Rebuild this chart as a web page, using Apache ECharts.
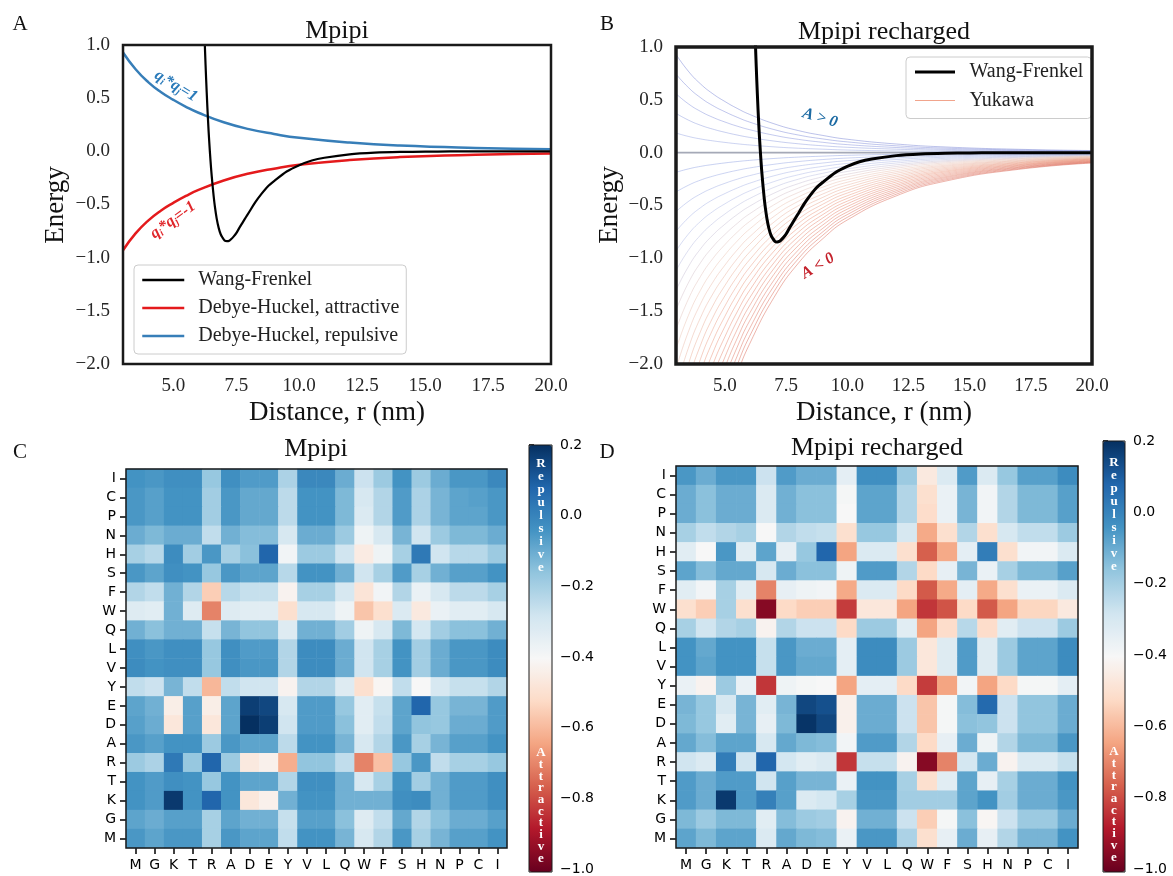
<!DOCTYPE html>
<html>
<head>
<meta charset="utf-8">
<script src="https://cdn.jsdelivr.net/npm/echarts@6/dist/echarts.min.js"></script>
<style>html,body{margin:0;padding:0;background:#fff}#c{width:1173px;height:876px}</style>
</head>
<body>
<div id="c"></div>
<script>
// ---------------- DATA ----------------
// Panel A / B : Wang-Frenkel potential
const wfX = [6.1, 6.2, 6.26, 6.3, 6.35, 6.4, 6.45, 6.5, 6.55, 6.6, 6.65, 6.72, 6.8, 6.88, 6.95, 7.04, 7.13, 7.22, 7.3, 7.4, 7.5, 7.62, 7.75, 7.88, 8.0, 8.25, 8.5, 8.75, 9.0, 9.5, 10, 10.5, 11, 12, 13, 14, 15, 16, 17, 18, 20];
const wfY = [2.27, 1.36, 0.935, 0.69, 0.42, 0.19, 0, -0.165, -0.30, -0.42, -0.52, -0.63, -0.72, -0.78, -0.81, -0.84, -0.845, -0.84, -0.825, -0.80, -0.77, -0.72, -0.67, -0.62, -0.575, -0.48, -0.40, -0.33, -0.28, -0.19, -0.13, -0.086, -0.06, -0.028, -0.013, -0.006, -0.003, -0.001, 0, 0, 0];
// Panel A : Debye-Huckel
const dhX = [3, 3.5, 4, 4.5, 5, 5.5, 6, 7, 8, 9, 10, 12, 14, 17, 20];
const dhRepulsive = [0.93, 0.772, 0.651, 0.558, 0.484, 0.419, 0.363, 0.274, 0.209, 0.163, 0.127, 0.082, 0.054, 0.032, 0.020];
const dhAttractive = [-0.93, -0.772, -0.651, -0.558, -0.484, -0.419, -0.363, -0.274, -0.209, -0.163, -0.127, -0.082, -0.054, -0.032, -0.020];
// Panel B : Yukawa family
const yukX = [3, 3.5, 4, 4.5, 5, 5.5, 6, 7, 8, 9, 10, 12, 14, 17, 20];
const yukY = [
 [0.93, 0.772, 0.651, 0.558, 0.484, 0.419, 0.363, 0.274, 0.209, 0.163, 0.127, 0.082, 0.054, 0.032, 0.020],
 [0.744, 0.618, 0.521, 0.446, 0.387, 0.335, 0.290, 0.219, 0.167, 0.130, 0.102, 0.065, 0.043, 0.025, 0.016],
 [0.558, 0.463, 0.391, 0.335, 0.290, 0.251, 0.218, 0.165, 0.126, 0.098, 0.076, 0.049, 0.032, 0.019, 0.012],
 [0.372, 0.309, 0.260, 0.223, 0.193, 0.167, 0.145, 0.110, 0.084, 0.065, 0.051, 0.033, 0.022, 0.013, 0.008],
 [0.186, 0.154, 0.130, 0.112, 0.097, 0.084, 0.073, 0.055, 0.042, 0.033, 0.025, 0.016, 0.011, 0.006, 0.004],
 [0, 0, 0, 0, 0, 0, 0, 0, 0, 0, 0, 0, 0, 0, 0],
 [-0.186, -0.154, -0.130, -0.112, -0.097, -0.084, -0.073, -0.055, -0.042, -0.033, -0.025, -0.016, -0.011, -0.006, -0.004],
 [-0.372, -0.309, -0.260, -0.223, -0.193, -0.167, -0.145, -0.110, -0.084, -0.065, -0.051, -0.033, -0.022, -0.013, -0.008],
 [-0.558, -0.463, -0.391, -0.335, -0.290, -0.251, -0.218, -0.165, -0.126, -0.098, -0.076, -0.049, -0.032, -0.019, -0.012],
 [-0.744, -0.618, -0.521, -0.446, -0.387, -0.335, -0.290, -0.219, -0.167, -0.130, -0.102, -0.065, -0.043, -0.025, -0.016],
 [-0.93, -0.772, -0.651, -0.558, -0.484, -0.419, -0.363, -0.274, -0.209, -0.163, -0.127, -0.082, -0.054, -0.032, -0.020],
 [-1.116, -0.926, -0.781, -0.670, -0.580, -0.502, -0.435, -0.329, -0.251, -0.195, -0.153, -0.098, -0.065, -0.038, -0.023],
 [-1.302, -1.081, -0.911, -0.781, -0.677, -0.586, -0.508, -0.384, -0.293, -0.228, -0.178, -0.115, -0.076, -0.044, -0.027],
 [-1.488, -1.235, -1.042, -0.893, -0.774, -0.670, -0.580, -0.439, -0.335, -0.260, -0.204, -0.131, -0.086, -0.051, -0.031],
 [-1.674, -1.389, -1.172, -1.004, -0.870, -0.753, -0.653, -0.494, -0.377, -0.293, -0.229, -0.147, -0.097, -0.057, -0.035],
 [-1.86, -1.544, -1.302, -1.116, -0.967, -0.837, -0.725, -0.549, -0.419, -0.326, -0.255, -0.164, -0.108, -0.063, -0.039],
 [-2.046, -1.698, -1.432, -1.228, -1.064, -0.921, -0.798, -0.604, -0.460, -0.358, -0.280, -0.180, -0.119, -0.070, -0.043],
 [-2.232, -1.853, -1.562, -1.339, -1.161, -1.004, -0.870, -0.658, -0.502, -0.391, -0.306, -0.196, -0.129, -0.076, -0.047],
 [-2.418, -2.007, -1.693, -1.451, -1.257, -1.088, -0.943, -0.713, -0.544, -0.423, -0.331, -0.213, -0.140, -0.082, -0.051],
 [-2.604, -2.161, -1.823, -1.562, -1.354, -1.172, -1.016, -0.768, -0.586, -0.456, -0.357, -0.229, -0.151, -0.089, -0.055],
 [-2.79, -2.316, -1.953, -1.674, -1.451, -1.256, -1.088, -0.823, -0.628, -0.488, -0.382, -0.246, -0.162, -0.095, -0.059],
 [-2.976, -2.470, -2.083, -1.786, -1.548, -1.339, -1.161, -0.878, -0.670, -0.521, -0.408, -0.262, -0.173, -0.101, -0.062],
 [-3.162, -2.624, -2.213, -1.897, -1.644, -1.423, -1.233, -0.933, -0.711, -0.553, -0.433, -0.278, -0.183, -0.108, -0.066],
 [-3.348, -2.779, -2.344, -2.009, -1.741, -1.507, -1.306, -0.988, -0.753, -0.586, -0.459, -0.295, -0.194, -0.114, -0.070],
 [-3.534, -2.933, -2.474, -2.120, -1.838, -1.590, -1.378, -1.043, -0.795, -0.618, -0.484, -0.311, -0.205, -0.120, -0.074],
 [-3.72, -3.088, -2.604, -2.232, -1.934, -1.674, -1.451, -1.097, -0.837, -0.651, -0.510, -0.327, -0.216, -0.126, -0.078],
 [-3.906, -3.242, -2.734, -2.344, -2.031, -1.758, -1.523, -1.152, -0.879, -0.684, -0.535, -0.344, -0.227, -0.133, -0.082],
 [-4.092, -3.396, -2.864, -2.455, -2.128, -1.841, -1.596, -1.207, -0.921, -0.716, -0.561, -0.360, -0.237, -0.139, -0.086],
 [-4.278, -3.551, -2.995, -2.567, -2.225, -1.925, -1.668, -1.262, -0.963, -0.749, -0.586, -0.376, -0.248, -0.145, -0.090],
 [-4.464, -3.705, -3.125, -2.678, -2.321, -2.009, -1.741, -1.317, -1.004, -0.781, -0.612, -0.393, -0.259, -0.152, -0.094],
 [-4.65, -3.860, -3.255, -2.790, -2.418, -2.093, -1.814, -1.372, -1.046, -0.814, -0.637, -0.409, -0.270, -0.158, -0.098]
];
const xTicks = [5, 7.5, 10, 12.5, 15, 17.5, 20];

// Panels C / D : residue interaction matrices
const residues = ['M','G','K','T','R','A','D','E','Y','V','L','Q','W','F','S','H','N','P','C','I'];
// rows listed top to bottom: I C P N H S F W Q L V Y E D A R T K G M
const mpipiRows = [
 [-0.04,-0.05,-0.03,-0.03,-0.17,-0.03,-0.06,-0.06,-0.21,-0.01,-0.01,-0.10,-0.27,-0.18,-0.04,-0.18,-0.10,-0.05,-0.05,-0.01],
 [-0.05,-0.07,-0.04,-0.04,-0.19,-0.05,-0.09,-0.09,-0.24,-0.04,-0.04,-0.13,-0.30,-0.22,-0.06,-0.21,-0.12,-0.08,-0.07,-0.05],
 [-0.05,-0.07,-0.04,-0.04,-0.19,-0.05,-0.09,-0.09,-0.24,-0.04,-0.04,-0.13,-0.31,-0.22,-0.06,-0.21,-0.12,-0.08,-0.08,-0.05],
 [-0.10,-0.13,-0.10,-0.10,-0.25,-0.11,-0.14,-0.14,-0.30,-0.10,-0.10,-0.18,-0.37,-0.30,-0.12,-0.28,-0.18,-0.13,-0.13,-0.10],
 [-0.20,-0.23,-0.02,-0.19,-0.05,-0.20,-0.15,0.08,-0.38,-0.18,-0.18,-0.28,-0.45,-0.37,-0.20,0.03,-0.28,-0.23,-0.23,-0.18],
 [-0.05,-0.08,-0.03,-0.04,-0.17,-0.05,-0.08,-0.08,-0.23,-0.04,-0.04,-0.11,-0.28,-0.20,-0.06,-0.20,-0.11,-0.07,-0.07,-0.04],
 [-0.22,-0.25,-0.11,-0.22,-0.55,-0.23,-0.26,-0.26,-0.42,-0.20,-0.20,-0.30,-0.48,-0.38,-0.22,-0.36,-0.30,-0.24,-0.24,-0.20],
 [-0.32,-0.33,-0.11,-0.32,-0.70,-0.32,-0.33,-0.33,-0.50,-0.30,-0.30,-0.37,-0.57,-0.50,-0.31,-0.46,-0.36,-0.33,-0.33,-0.30],
 [-0.11,-0.15,-0.11,-0.11,-0.26,-0.12,-0.16,-0.16,-0.32,-0.11,-0.11,-0.19,-0.37,-0.30,-0.13,-0.29,-0.19,-0.15,-0.15,-0.11],
 [-0.03,-0.05,-0.03,-0.03,-0.17,-0.03,-0.06,-0.06,-0.22,-0.02,-0.02,-0.10,-0.28,-0.20,-0.04,-0.19,-0.10,-0.05,-0.05,-0.02],
 [-0.02,-0.04,-0.03,-0.03,-0.17,-0.03,-0.05,-0.05,-0.22,-0.02,-0.02,-0.10,-0.28,-0.20,-0.04,-0.19,-0.10,-0.05,-0.05,-0.02],
 [-0.25,-0.27,-0.12,-0.25,-0.60,-0.25,-0.28,-0.28,-0.42,-0.22,-0.22,-0.32,-0.50,-0.41,-0.25,-0.40,-0.30,-0.26,-0.26,-0.22],
 [-0.08,-0.11,-0.44,-0.07,-0.44,-0.08,0.17,0.15,-0.30,-0.06,-0.06,-0.17,-0.33,-0.26,-0.08,0.08,-0.17,-0.12,-0.12,-0.06],
 [-0.07,-0.10,-0.47,-0.07,-0.47,-0.08,0.20,0.17,-0.28,-0.06,-0.06,-0.15,-0.33,-0.25,-0.08,-0.16,-0.17,-0.10,-0.10,-0.06],
 [-0.05,-0.07,-0.04,-0.04,-0.18,-0.05,-0.08,-0.08,-0.24,-0.04,-0.04,-0.12,-0.30,-0.22,-0.05,-0.20,-0.12,-0.07,-0.07,-0.04],
 [-0.18,-0.21,0.03,-0.17,0.08,-0.18,-0.46,-0.43,-0.62,-0.16,-0.16,-0.25,-0.70,-0.58,-0.17,-0.05,-0.25,-0.20,-0.20,-0.17],
 [-0.04,-0.06,-0.03,-0.04,-0.17,-0.04,-0.08,-0.08,-0.22,-0.03,-0.03,-0.11,-0.30,-0.20,-0.04,-0.19,-0.11,-0.06,-0.06,-0.03],
 [-0.04,-0.06,0.18,-0.04,0.08,-0.04,-0.47,-0.43,-0.11,-0.04,-0.04,-0.11,-0.11,-0.11,-0.03,-0.02,-0.11,-0.06,-0.06,-0.03],
 [-0.08,-0.10,-0.07,-0.07,-0.20,-0.08,-0.11,-0.11,-0.26,-0.07,-0.07,-0.15,-0.32,-0.25,-0.09,-0.22,-0.15,-0.10,-0.10,-0.07],
 [-0.05,-0.08,-0.05,-0.05,-0.20,-0.05,-0.08,-0.08,-0.25,-0.04,-0.04,-0.12,-0.30,-0.22,-0.05,-0.20,-0.12,-0.07,-0.07,-0.04]
];
const rechargedRows = [
 [-0.05,-0.10,-0.05,-0.05,-0.27,-0.06,-0.10,-0.10,-0.34,-0.03,-0.03,-0.18,-0.46,-0.31,-0.06,-0.31,-0.17,-0.07,-0.07,-0.02],
 [-0.10,-0.15,-0.10,-0.10,-0.31,-0.11,-0.15,-0.15,-0.39,-0.08,-0.08,-0.22,-0.50,-0.36,-0.12,-0.38,-0.22,-0.13,-0.13,-0.07],
 [-0.10,-0.15,-0.10,-0.10,-0.31,-0.11,-0.15,-0.15,-0.40,-0.08,-0.08,-0.22,-0.51,-0.36,-0.12,-0.38,-0.22,-0.13,-0.13,-0.07],
 [-0.20,-0.25,-0.22,-0.20,-0.40,-0.22,-0.25,-0.26,-0.50,-0.17,-0.17,-0.30,-0.63,-0.50,-0.22,-0.50,-0.30,-0.25,-0.25,-0.18],
 [-0.33,-0.40,-0.05,-0.33,-0.08,-0.35,-0.17,0.08,-0.64,-0.31,-0.31,-0.50,-0.76,-0.63,-0.34,0.02,-0.50,-0.38,-0.38,-0.31],
 [-0.08,-0.14,-0.09,-0.09,-0.30,-0.10,-0.15,-0.15,-0.37,-0.06,-0.06,-0.22,-0.52,-0.35,-0.12,-0.36,-0.20,-0.13,-0.13,-0.07],
 [-0.33,-0.38,-0.20,-0.33,-0.70,-0.35,-0.37,-0.38,-0.63,-0.31,-0.31,-0.52,-0.77,-0.63,-0.34,-0.63,-0.50,-0.36,-0.36,-0.31],
 [-0.50,-0.55,-0.20,-0.50,-0.95,-0.52,-0.55,-0.55,-0.82,-0.47,-0.47,-0.64,-0.83,-0.78,-0.52,-0.77,-0.64,-0.53,-0.53,-0.46],
 [-0.20,-0.28,-0.22,-0.20,-0.42,-0.22,-0.27,-0.27,-0.52,-0.18,-0.18,-0.33,-0.64,-0.51,-0.23,-0.51,-0.33,-0.27,-0.27,-0.18],
 [-0.04,-0.09,-0.04,-0.04,-0.26,-0.05,-0.10,-0.10,-0.34,-0.02,-0.02,-0.18,-0.47,-0.32,-0.06,-0.32,-0.18,-0.08,-0.08,-0.02],
 [-0.04,-0.08,-0.04,-0.04,-0.26,-0.05,-0.09,-0.09,-0.34,-0.02,-0.02,-0.18,-0.47,-0.32,-0.06,-0.32,-0.18,-0.08,-0.08,-0.02],
 [-0.36,-0.42,-0.18,-0.36,-0.83,-0.37,-0.39,-0.40,-0.64,-0.34,-0.34,-0.52,-0.82,-0.64,-0.38,-0.64,-0.52,-0.39,-0.39,-0.34],
 [-0.12,-0.17,-0.30,-0.12,-0.33,-0.12,0.15,0.13,-0.43,-0.10,-0.10,-0.27,-0.57,-0.39,-0.14,0.07,-0.27,-0.16,-0.16,-0.10],
 [-0.13,-0.17,-0.33,-0.12,-0.35,-0.13,0.19,0.15,-0.43,-0.10,-0.10,-0.27,-0.57,-0.39,-0.15,-0.16,-0.27,-0.16,-0.16,-0.10],
 [-0.09,-0.14,-0.08,-0.08,-0.30,-0.09,-0.13,-0.14,-0.38,-0.06,-0.06,-0.22,-0.52,-0.35,-0.10,-0.37,-0.22,-0.13,-0.13,-0.05],
 [-0.28,-0.31,0.02,-0.28,0.08,-0.29,-0.33,-0.31,-0.83,-0.26,-0.26,-0.42,-0.95,-0.70,-0.29,-0.10,-0.42,-0.31,-0.31,-0.26],
 [-0.06,-0.10,-0.06,-0.06,-0.28,-0.07,-0.12,-0.12,-0.36,-0.04,-0.04,-0.20,-0.50,-0.33,-0.08,-0.35,-0.20,-0.10,-0.10,-0.04],
 [-0.06,-0.10,0.18,-0.06,0.01,-0.07,-0.31,-0.29,-0.20,-0.05,-0.05,-0.19,-0.19,-0.19,-0.08,-0.04,-0.19,-0.10,-0.10,-0.05],
 [-0.13,-0.18,-0.13,-0.13,-0.33,-0.14,-0.18,-0.19,-0.42,-0.11,-0.11,-0.27,-0.55,-0.39,-0.15,-0.41,-0.27,-0.18,-0.18,-0.10],
 [-0.08,-0.13,-0.08,-0.08,-0.31,-0.09,-0.13,-0.14,-0.36,-0.05,-0.05,-0.21,-0.50,-0.35,-0.10,-0.35,-0.22,-0.12,-0.12,-0.04]
];
const cbarMin = -1.0, cbarMax = 0.2;

// ---------------- STYLE ----------------
const SERIF = "'Liberation Serif','DejaVu Serif',serif";
const SANS = "'DejaVu Sans',sans-serif";
const RDBU = ['#67001f','#b2182b','#d6604d','#f4a582','#fddbc7','#f7f7f7','#d1e5f0','#92c5de','#4393c3','#2166ac','#053061'];
const fmt1 = v => { if (Math.abs(v) < 1e-9) v = 0; return v.toFixed(1).replace('-', '\u2212'); };
const pairs = (xs, ys) => xs.map((x, i) => [x, ys[i]]);

const ykStops = [
  [0.93, [59, 76, 192]], [0.19, [105, 125, 215]], [-0.19, [125, 145, 222]],
  [-1.0, [165, 178, 228]], [-1.8, [232, 188, 170]], [-3.0, [232, 135, 105]], [-4.65, [212, 78, 58]]
];
function ykColor(a) {
  if (Math.abs(a) < 1e-9) return 'rgba(105,112,135,0.6)';
  const s = ykStops;
  const alpha = a > 0 ? 0.34 : 0.42;
  for (let i = 0; i < s.length - 1; i++) {
    if (a <= s[i][0] && a >= s[i + 1][0]) {
      const t = (s[i][0] - a) / (s[i][0] - s[i + 1][0]);
      const c = s[i][1].map((v, k) => Math.round(v + t * (s[i + 1][1][k] - v)));
      return 'rgba(' + c.join(',') + ',' + alpha + ')';
    }
  }
  return 'rgba(212,78,58,0.42)';
}

function heatData(rows) {
  const out = [];
  rows.forEach((row, r) => row.forEach((v, c) => out.push([c, rows.length - 1 - r, v])));
  return out;
}

// ---------------- CHART ----------------
const chart = echarts.init(document.getElementById('c'), null, { renderer: 'canvas' });

const gridsPx = [
  { left: 123, top: 45, width: 428, height: 319 },
  { left: 676, top: 47, width: 416, height: 317 },
  { left: 126, top: 469, width: 381, height: 379 },
  { left: 676, top: 466, width: 402, height: 382 },
  { left: 529, top: 445, width: 23, height: 427 },
  { left: 1103, top: 441, width: 22, height: 431 }
];

const lineXAxis = (gi) => ({
  type: 'value', gridIndex: gi, min: 3, max: 20,
  axisLine: { show: false }, axisTick: { show: false }, splitLine: { show: false },
  axisLabel: { customValues: xTicks, formatter: fmt1, fontFamily: SERIF, fontSize: 19, color: '#262626', margin: 13 }
});
const lineYAxis = (gi) => ({
  type: 'value', gridIndex: gi, min: -2, max: 1, interval: 0.5,
  axisLine: { show: false }, axisTick: { show: false }, splitLine: { show: false },
  axisLabel: { formatter: fmt1, fontFamily: SERIF, fontSize: 19, color: '#262626', margin: 13 }
});
const catAxis = (gi, pos) => ({
  type: 'category', gridIndex: gi, data: residues, position: pos,
  axisLine: { show: false }, splitLine: { show: false },
  axisTick: { show: true, alignWithLabel: true, length: 6, lineStyle: { color: '#000', width: 1.5 } },
  axisLabel: { fontFamily: SANS, fontSize: 14, color: '#000', margin: 10, interval: 0 }
});
const cbarY = (gi) => ({
  type: 'value', gridIndex: gi, min: cbarMin, max: cbarMax, interval: 0.2, position: 'right',
  axisLine: { show: false }, splitLine: { show: false },
  axisTick: { show: true, length: 5, lineStyle: { color: '#000', width: 1.5 } },
  axisLabel: { formatter: fmt1, fontFamily: SANS, fontSize: 14, color: '#000', margin: 8 }
});

const series = [];
series.push({ name: 'Wang-Frenkel', type: 'line', xAxisIndex: 0, yAxisIndex: 0, data: pairs(wfX, wfY), symbol: 'none', showSymbol: false, smooth: 0.2, lineStyle: { color: '#000', width: 2.2 }, itemStyle: { color: '#000' }, z: 3 });
series.push({ name: 'Debye-Huckel, attractive', type: 'line', xAxisIndex: 0, yAxisIndex: 0, data: pairs(dhX, dhAttractive), symbol: 'none', showSymbol: false, smooth: 0.5, lineStyle: { color: '#e41a1c', width: 2.5 }, itemStyle: { color: '#e41a1c' }, z: 2 });
series.push({ name: 'Debye-Huckel, repulsive', type: 'line', xAxisIndex: 0, yAxisIndex: 0, data: pairs(dhX, dhRepulsive), symbol: 'none', showSymbol: false, smooth: 0.5, lineStyle: { color: '#377eb8', width: 2.5 }, itemStyle: { color: '#377eb8' }, z: 2 });
yukY.forEach((ys, i) => {
  const a = ys[0];
  const col = ykColor(a);
  const isZero = Math.abs(a) < 1e-9;
  series.push({ name: i === 20 ? 'Yukawa' : ('yk' + i), type: 'line', xAxisIndex: 1, yAxisIndex: 1, data: pairs(yukX, ys), symbol: 'none', showSymbol: false, smooth: 0.5, lineStyle: { color: col, width: isZero ? 1.6 : 1 }, itemStyle: { color: col }, z: 2, silent: true });
});
series.push({ name: 'Wang-Frenkel', type: 'line', xAxisIndex: 1, yAxisIndex: 1, data: pairs(wfX, wfY), symbol: 'none', showSymbol: false, smooth: 0.2, lineStyle: { color: '#000', width: 3 }, itemStyle: { color: '#000' }, z: 4 });
const heatCIndex = series.length;
series.push({ type: 'heatmap', xAxisIndex: 2, yAxisIndex: 2, data: heatData(mpipiRows), emphasis: { disabled: true } });
const heatDIndex = series.length;
series.push({ type: 'heatmap', xAxisIndex: 3, yAxisIndex: 3, data: heatData(rechargedRows), emphasis: { disabled: true } });

const frame = (g, lw) => ({ type: 'rect', z: 100, silent: true, shape: { x: g.left, y: g.top, width: g.width, height: g.height }, style: { fill: 'none', stroke: '#1a1a1a', lineWidth: lw } });
const txt = (x, y, text, font, extra) => Object.assign({ type: 'text', x: x, y: y, z: 110, silent: true, style: Object.assign({ text: text, align: 'center', verticalAlign: 'middle', fill: '#111' }, font) }, extra || {});
const stack = (x, y, word, lh) => ({ type: 'text', x: x, y: y, z: 110, silent: true, style: { text: word.split('').join('\n'), align: 'center', verticalAlign: 'top', fill: '#fff', fontFamily: SERIF, fontWeight: 'bold', fontSize: 13, lineHeight: lh } });
const ann = (x, y, text, color, deg) => ({ type: 'text', x: x, y: y, rotation: deg * Math.PI / 180, z: 110, silent: true,
  style: { text: text, align: 'center', verticalAlign: 'middle', fill: color, fontFamily: SERIF, fontStyle: 'italic', fontWeight: 'bold', fontSize: 16,
    rich: { s: { fontSize: 10, fill: color, fontFamily: SERIF, fontStyle: 'italic', fontWeight: 'bold', padding: [8, 0, 0, 0] }, n: { fontSize: 16, fill: color, fontFamily: SERIF, fontStyle: 'italic', fontWeight: 'bold' } } } });

const graphic = [
  frame(gridsPx[0], 2.5), frame(gridsPx[1], 3.5), frame(gridsPx[2], 1.5), frame(gridsPx[3], 1.5), frame(gridsPx[4], 1), frame(gridsPx[5], 1),
  txt(20, 24, 'A', { fontFamily: SERIF, fontSize: 21 }),
  txt(607, 24, 'B', { fontFamily: SERIF, fontSize: 21 }),
  txt(20, 452, 'C', { fontFamily: SERIF, fontSize: 21 }),
  txt(607, 452, 'D', { fontFamily: SERIF, fontSize: 21 }),
  txt(337, 31, 'Mpipi', { fontFamily: SERIF, fontSize: 26 }),
  txt(884, 32, 'Mpipi recharged', { fontFamily: SERIF, fontSize: 26 }),
  txt(316, 449, 'Mpipi', { fontFamily: SERIF, fontSize: 26 }),
  txt(877, 448, 'Mpipi recharged', { fontFamily: SERIF, fontSize: 26 }),
  txt(337, 413, 'Distance, r (nm)', { fontFamily: SERIF, fontSize: 27 }),
  txt(884, 413, 'Distance, r (nm)', { fontFamily: SERIF, fontSize: 27 }),
  txt(56, 205, 'Energy', { fontFamily: SERIF, fontSize: 27 }, { rotation: Math.PI / 2 }),
  txt(610, 205, 'Energy', { fontFamily: SERIF, fontSize: 27 }, { rotation: Math.PI / 2 }),
  ann(176, 86, '{n|q}{s|i}{n|*q}{s|j}{n|=1}', '#2b7bba', -31),
  ann(173, 220, '{n|q}{s|i}{n|*q}{s|j}{n|=-1}', '#e0262b', 36),
  ann(820, 118, 'A > 0', '#1c6aa3', -16),
  ann(818, 266, 'A < 0', '#c4222c', 31),
  stack(541, 457, 'Repulsive', 13), stack(541, 747, 'Attractive', 11.7),
  stack(1114, 456, 'Repulsive', 13), stack(1114, 746, 'Attractive', 11.7)
];

const legendCommon = { orient: 'vertical', selectedMode: false, itemHeight: 14, backgroundColor: '#fff', borderColor: '#cccccc', borderWidth: 1, borderRadius: 4,
  itemStyle: { opacity: 0, borderWidth: 0 } };
const option = {
  animation: false,
  backgroundColor: '#fff',
  grid: gridsPx.map(g => Object.assign({ containLabel: false, show: false }, g)),
  xAxis: [lineXAxis(0), lineXAxis(1), catAxis(2, 'bottom'), catAxis(3, 'bottom'),
    { type: 'value', gridIndex: 4, show: false, min: 0, max: 1 }, { type: 'value', gridIndex: 5, show: false, min: 0, max: 1 }],
  yAxis: [lineYAxis(0), lineYAxis(1), catAxis(2, 'left'), catAxis(3, 'left'), cbarY(4), cbarY(5)],
  legend: [
    Object.assign({}, legendCommon, { data: [
        { name: 'Wang-Frenkel', lineStyle: { width: 2.5 } },
        { name: 'Debye-Huckel, attractive', lineStyle: { width: 2.5 } },
        { name: 'Debye-Huckel, repulsive', lineStyle: { width: 2.5 } }], left: 134, top: 265,
      padding: [4, 7, 7, 7], itemWidth: 42, itemGap: 6,
      textStyle: { fontFamily: SERIF, fontSize: 20, color: '#222', lineHeight: 22, padding: [0, 0, 0, 9] } }),
    Object.assign({}, legendCommon, { data: [
        { name: 'Wang-Frenkel', lineStyle: { width: 3 } },
        { name: 'Yukawa', lineStyle: { color: '#f1a48c', width: 1.2, opacity: 1 } }], left: 906, top: 57,
      padding: [4, 8, 7, 7.5], itemWidth: 40, itemGap: 6.5,
      textStyle: { fontFamily: SERIF, fontSize: 20, color: '#222', lineHeight: 22, padding: [0, 0, 0, 9.5] } })
  ],
  visualMap: [
    { type: 'continuous', min: cbarMin, max: cbarMax, seriesIndex: heatCIndex, inRange: { color: RDBU }, calculable: false, show: true,
      left: 529, top: 445, itemWidth: 23, itemHeight: 427, padding: 0, text: null, hoverLink: false, orient: 'vertical' },
    { type: 'continuous', min: cbarMin, max: cbarMax, seriesIndex: heatDIndex, inRange: { color: RDBU }, calculable: false, show: true,
      left: 1103, top: 441, itemWidth: 22, itemHeight: 431, padding: 0, text: null, hoverLink: false, orient: 'vertical' }
  ],
  series: series,
  graphic: graphic
};
chart.setOption(option);
</script>
</body>
</html>
